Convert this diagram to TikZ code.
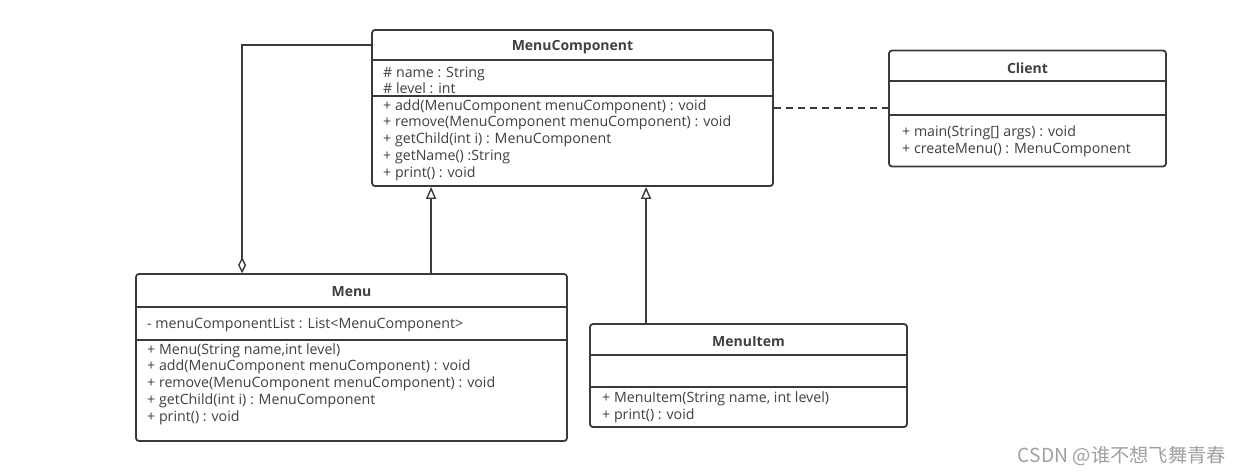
\documentclass[tikz,border=0pt]{standalone}
\usepackage{fontspec}
\setmainfont{Open Sans}
\newfontfamily\cjkfont{Noto Sans CJK SC}
\usetikzlibrary{arrows.meta,positioning}
\definecolor{linegray}{HTML}{3A3A3A}
\definecolor{txtgray}{HTML}{404040}
\definecolor{markgray}{HTML}{A0A0A0}

\tikzset{
	umlbox/.style={draw=linegray, line width=1.8pt, rounded corners=3pt, fill=white},
	sep/.style={draw=linegray, line width=1.8pt},
	title/.style={font=\bfseries\fontsize{14}{16}\selectfont, text=txtgray, inner sep=0},
	member/.style={anchor=west, align=left, inner sep=0, text=txtgray, font=\fontsize{14.2}{16.75}\selectfont},
	inherit/.style={draw=linegray, line width=1.8pt, -{Triangle[open, length=12pt, width=10pt, line width=1.4pt]}},
	aggr/.style={draw=linegray, line width=1.8pt, -{Diamond[open, length=16pt, width=8pt, line width=1.4pt]}},
	depend/.style={draw=linegray, line width=1.8pt, dash pattern=on 7pt off 5pt}
}

\begin{document}
\begin{tikzpicture}[x=1pt, y=-1pt]
	\useasboundingbox (0,0) rectangle (1244,474);
	
	% class boxes
	\node (mc) at (572.5,108) [umlbox, minimum width=401pt, minimum height=156pt] {};
	\node (client) at (1027.5,108.5) [umlbox, minimum width=277pt, minimum height=116pt] {};
	\node (menu) at (351.5,357.5) [umlbox, minimum width=431pt, minimum height=167pt] {};
	\node (item) at (748.5,375.5) [umlbox, minimum width=317pt, minimum height=103pt] {};
	
	% compartments
	\draw[sep] (mc.west |- 0,60) -- (mc.east |- 0,60);
	\draw[sep] (mc.west |- 0,96) -- (mc.east |- 0,96);
	\draw[sep] (client.west |- 0,81) -- (client.east |- 0,81);
	\draw[sep] (client.west |- 0,115) -- (client.east |- 0,115);
	\draw[sep] (menu.west |- 0,307) -- (menu.east |- 0,307);
	\draw[sep] (menu.west |- 0,340) -- (menu.east |- 0,340);
	\draw[sep] (item.west |- 0,355) -- (item.east |- 0,355);
	\draw[sep] (item.west |- 0,387) -- (item.east |- 0,387);
	
	% titles
	\node (mcT) at (572.5,47) [title] {MenuComponent};
	\node (clientT) at (1027.5,68) [title] {Client};
	\node (menuT) at (351.5,292) [title] {Menu};
	\node (itemT) at (748.5,342) [title] {MenuItem};
	
	% members
	\node (mcA) at (383,80.5) [member, font=\fontsize{14.2}{16}\selectfont] {\# name : String\\\# level : int};
	\node (mcM) at (383,140) [member] {+ add(MenuComponent menuComponent) : void\\+ remove(MenuComponent menuComponent) : void\\+ getChild(int i) : MenuComponent\\+ getName() :String\\+ print() : void};
	\node (clientM) at (902,141) [member] {+ main(String[] args) : void\\+ createMenu() : MenuComponent};
	\node (menuA) at (147,325) [member] {- menuComponentList : List<MenuComponent>};
	\node (menuM) at (147,384) [member] {+ Menu(String name,int level)\\+ add(MenuComponent menuComponent) : void\\+ remove(MenuComponent menuComponent) : void\\+ getChild(int i) : MenuComponent\\+ print() : void};
	\node (itemM) at (602,407) [member] {+ MenuItem(String name, int level)\\+ print() : void};
	
	% relations
	\draw[aggr] ([yshift=-16pt]mc.north west) -| ([xshift=107pt]menu.north west);
	\draw[inherit] ([xshift=296pt]menu.north west) -- ([xshift=296pt]menu.north west |- mc.south);
	\draw[inherit] ([xshift=57pt]item.north west) -- ([xshift=57pt]item.north west |- mc.south);
	\draw[depend] (mc.east) -- (client.west |- mc.east);
	
	\node (mark) at (1122,456) [text=markgray, font=\cjkfont\fontsize{19.3}{21}\selectfont] {CSDN @谁不想飞舞青春};
\end{tikzpicture}
\end{document}
